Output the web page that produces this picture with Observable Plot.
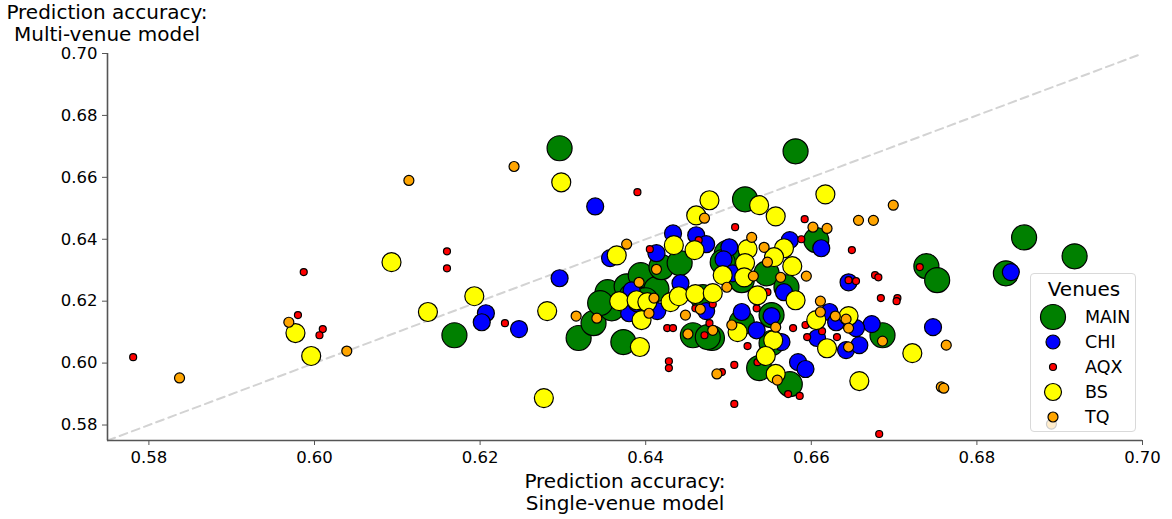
<!DOCTYPE html>
<html>
<head>
<meta charset="utf-8">
<script src="https://cdn.jsdelivr.net/npm/d3@7"></script>
<script src="https://cdn.jsdelivr.net/npm/@observablehq/plot@0.6"></script>
<style>
  body { margin: 0; background: #fff; font-family: "DejaVu Sans", sans-serif; }
  #wrap { position: relative; width: 1172px; height: 519px; overflow: hidden; }
  .lbl { position: absolute; font-size: 20px; line-height: 22px; text-align: center; color: #000; white-space: nowrap; }
  #legend { position: absolute; left: 1030px; top: 273px; width: 104px; height: 157px;
            background: rgba(255,255,255,0.8); border: 1.5px solid #d9d9d9; border-radius: 4px; }
</style>
</head>
<body>
<div id="wrap">
  <div id="chart"></div>
  <div class="lbl" style="left:-3px; top:1px; width:220px;">Prediction accuracy:<br>Multi-venue model</div>
  <div class="lbl" style="left:515px; top:470px; width:220px;">Prediction accuracy:<br>Single-venue model</div>
  <div id="legend"></div>
</div>
<script>
// ---- data (x = single-venue accuracy, y = multi-venue accuracy) ----
const venues = ["MAIN", "CHI", "AQX", "BS", "TQ"];
const axisTicks = [0.58, 0.60, 0.62, 0.64, 0.66, 0.68, 0.70];

const MAIN = [
  [0.6296,0.6694],[0.6581,0.6684],[0.6520,0.6529],[0.6857,0.6406],[0.6918,0.6345],
  [0.6835,0.6290],[0.6739,0.6313],[0.6752,0.6268],[0.6169,0.6090],[0.6686,0.6090],
  [0.6319,0.6081],[0.6337,0.6129],[0.6354,0.6229],[0.6359,0.6177],[0.6345,0.6194],
  [0.6373,0.6068],[0.6377,0.6248],[0.6394,0.6284],[0.6413,0.6239],[0.6419,0.6310],
  [0.6441,0.6323],[0.6457,0.6090],[0.6480,0.6081],[0.6498,0.6355],[0.6493,0.6326],
  [0.6516,0.6268],[0.6546,0.6290],[0.6570,0.6245],[0.6606,0.6397],[0.6469,0.6213],
  [0.6475,0.6084],[0.6516,0.6132],[0.6552,0.6155],[0.6537,0.5984],[0.6552,0.6065],
  [0.6574,0.5932],[0.6383,0.6216],[0.6400,0.6203]
];
const CHI = [
  [0.6339,0.6506],[0.6296,0.6274],[0.6357,0.6339],[0.6207,0.6161],[0.6202,0.6132],
  [0.6247,0.6110],[0.6413,0.6355],[0.6433,0.6419],[0.6461,0.6413],[0.6473,0.6384],
  [0.6501,0.6374],[0.6494,0.6335],[0.6442,0.6258],[0.6383,0.6235],[0.6380,0.6161],
  [0.6414,0.6168],[0.6389,0.6194],[0.6473,0.6168],[0.6516,0.6165],[0.6534,0.6106],
  [0.6505,0.6290],[0.6574,0.6397],[0.6612,0.6371],[0.6567,0.6229],[0.6552,0.6152],
  [0.6564,0.6068],[0.6584,0.6003],[0.6593,0.5981],[0.6622,0.6165],[0.6630,0.6132],
  [0.6607,0.6081],[0.6642,0.6042],[0.6658,0.6058],[0.6673,0.6126],[0.6654,0.6113],
  [0.6747,0.6116],[0.6645,0.6261],[0.6841,0.6294]
];
const AQX = [
  [0.5781,0.6019],[0.5987,0.6294],[0.5980,0.6155],[0.6010,0.6110],[0.6006,0.6090],
  [0.6160,0.6361],[0.6160,0.6306],[0.6230,0.6129],[0.6390,0.6552],[0.6405,0.6368],
  [0.6508,0.6439],[0.6464,0.6397],[0.6426,0.6113],[0.6433,0.6113],[0.6428,0.6006],
  [0.6428,0.5984],[0.6460,0.6177],[0.6481,0.6190],[0.6471,0.6090],[0.6477,0.6129],
  [0.6523,0.6055],[0.6507,0.5994],[0.6492,0.5971],[0.6507,0.5868],[0.6592,0.6465],
  [0.6588,0.6400],[0.6547,0.6229],[0.6534,0.6177],[0.6578,0.6113],[0.6593,0.6123],
  [0.6595,0.6084],[0.6613,0.6103],[0.6631,0.6084],[0.6535,0.6003],[0.6649,0.6365],
  [0.6731,0.6310],[0.6645,0.6268],[0.6654,0.6265],[0.6677,0.6284],[0.6681,0.6277],
  [0.6572,0.5900],[0.6586,0.5894],[0.6684,0.6210],[0.6704,0.6210],[0.6703,0.6200],
  [0.6682,0.5771]
];
const BS = [
  [0.6093,0.6326],[0.6137,0.6165],[0.5977,0.6097],[0.5996,0.6023],[0.6193,0.6216],
  [0.6298,0.6584],[0.6365,0.6348],[0.6281,0.6168],[0.6277,0.5887],[0.6434,0.6381],
  [0.6459,0.6365],[0.6368,0.6200],[0.6389,0.6203],[0.6402,0.6197],[0.6430,0.6197],
  [0.6440,0.6216],[0.6460,0.6223],[0.6481,0.6226],[0.6395,0.6139],[0.6393,0.6052],
  [0.6477,0.6526],[0.6461,0.6477],[0.6523,0.6368],[0.6520,0.6323],[0.6493,0.6284],
  [0.6519,0.6277],[0.6537,0.6510],[0.6557,0.6474],[0.6567,0.6371],[0.6577,0.6313],
  [0.6555,0.6342],[0.6535,0.6219],[0.6581,0.6203],[0.6511,0.6100],[0.6554,0.6074],
  [0.6545,0.6023],[0.6557,0.5965],[0.6606,0.6139],[0.6619,0.6048],[0.6645,0.6152],
  [0.6658,0.5942],[0.6722,0.6032],[0.6617,0.6545]
];
const TQ = [
  [0.6114,0.6590],[0.5969,0.6132],[0.6039,0.6039],[0.5837,0.5952],[0.6241,0.6635],
  [0.6316,0.6152],[0.6341,0.6145],[0.6377,0.6384],[0.6413,0.6303],[0.6392,0.6261],
  [0.6410,0.6210],[0.6404,0.6161],[0.6448,0.6155],[0.6451,0.6094],[0.6471,0.6468],
  [0.6528,0.6406],[0.6530,0.6281],[0.6498,0.6245],[0.6466,0.6174],[0.6481,0.6106],
  [0.6504,0.6123],[0.6486,0.5965],[0.6543,0.6374],[0.6547,0.6326],[0.6563,0.6277],
  [0.6594,0.6281],[0.6602,0.6439],[0.6619,0.6435],[0.6557,0.6116],[0.6611,0.6200],
  [0.6611,0.6165],[0.6629,0.6152],[0.6642,0.6142],[0.6645,0.6113],[0.6645,0.6052],
  [0.6559,0.5945],[0.6657,0.6461],[0.6675,0.6461],[0.6699,0.6510],[0.6686,0.6071],
  [0.6763,0.6058],[0.6757,0.5923],[0.6760,0.5919],[0.6890,0.5803]
];
const seriesValues = [MAIN, CHI, AQX, BS, TQ];

// ---- styles ----
const fills = {MAIN: "green", CHI: "blue", AQX: "red", BS: "yellow", TQ: "orange"};
const radii = {MAIN: 12.5, CHI: 8.5, AQX: 3.5, BS: 9.5, TQ: 5};
const legendR = {MAIN: 12.5, CHI: 7, AQX: 3.5, BS: 8.5, TQ: 5};

const rows = venues.flatMap((v, i) => seriesValues[i].map(([x, y]) => ({venue: v, x, y})));
const dom = [0.575, 0.70];

const chart = Plot.plot({
  width: 1172, height: 519,
  marginLeft: 107, marginRight: 30, marginTop: 53, marginBottom: 79,
  style: {fontFamily: "DejaVu Sans, sans-serif", fontSize: "16.5px", color: "#000", background: "#fff"},
  x: {domain: dom},
  y: {domain: dom},
  marks: [
    Plot.line(dom.map(d => ({x: d, y: d})), {x: "x", y: "y", stroke: "#d3d3d3", strokeWidth: 2, strokeDasharray: "8,5"}),
    ...venues.map(v => Plot.dot(rows.filter(d => d.venue === v), {
      x: "x", y: "y", r: radii[v], fill: fills[v], stroke: "#000", strokeWidth: 1.2
    })),
    Plot.ruleX([dom[0]], {stroke: "#555", strokeWidth: 1.6}),
    Plot.ruleY([dom[0]], {stroke: "#555", strokeWidth: 1.6}),
    Plot.axisX({ticks: axisTicks, tickFormat: d3.format(".2f"), tickSize: 5, tickPadding: 6, label: null, stroke: "#555", fontSize: 16.5}),
    Plot.axisY({ticks: axisTicks, tickFormat: d3.format(".2f"), tickSize: 5, tickPadding: 5, label: null, stroke: "#555", fontSize: 16.5})
  ]
});
document.getElementById("chart").appendChild(chart);

// ---- legend ----
const lg = d3.select("#legend").append("svg").attr("width", 104).attr("height", 157)
  .style("position", "absolute").style("left", "0px").style("top", "0px")
  .style("font-family", "DejaVu Sans, sans-serif");
lg.append("text").attr("x", 53).attr("y", 22).attr("text-anchor", "middle")
  .attr("font-size", 20).text("Venues");
venues.forEach((v, i) => {
  const cy = 43 + i * 25;
  lg.append("circle").attr("cx", 22).attr("cy", cy).attr("r", legendR[v])
    .attr("fill", fills[v]).attr("stroke", "#000").attr("stroke-width", 1.2);
  lg.append("text").attr("x", 54).attr("y", cy).attr("dy", "0.36em")
    .attr("font-size", 17.5).text(v);
});
</script>
</body>
</html>
